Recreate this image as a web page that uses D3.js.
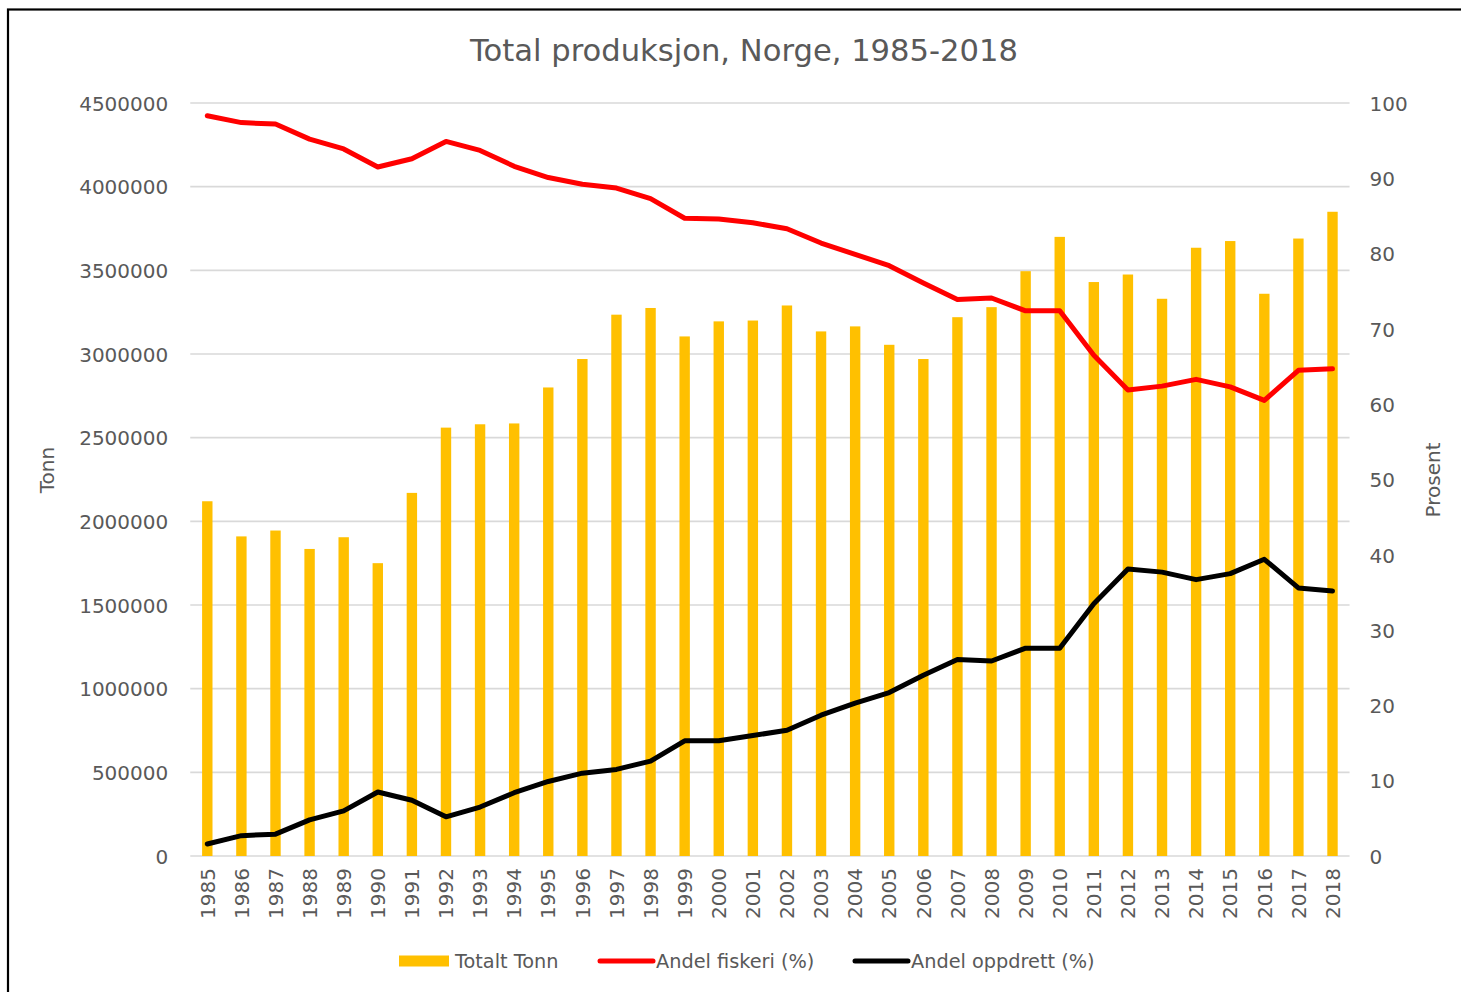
<!DOCTYPE html>
<html><head><meta charset="utf-8">
<script src="https://cdn.jsdelivr.net/npm/d3@7"></script>
<style>
html,body{margin:0;padding:0;background:#fff;}
text{font-family:"DejaVu Sans",sans-serif;fill:#595959;}
</style></head>
<body>
<svg id="chart" width="1461" height="992"></svg>
<script>
const years = [1985,1986,1987,1988,1989,1990,1991,1992,1993,1994,1995,1996,1997,1998,1999,2000,2001,2002,2003,2004,2005,2006,2007,2008,2009,2010,2011,2012,2013,2014,2015,2016,2017,2018];
const totaltTonn = [2120000,1910000,1945000,1835000,1905000,1750000,2170000,2560000,2580000,2585000,2800000,2970000,3235000,3275000,3105000,3195000,3200000,3290000,3135000,3165000,3055000,2970000,3220000,3280000,3495000,3700000,3430000,3475000,3330000,3635000,3675000,3360000,3690000,3850000];
const andelFiskeri = [98.3,97.4,97.2,95.2,93.9,91.5,92.6,94.9,93.7,91.6,90.1,89.2,88.7,87.3,84.7,84.6,84.1,83.3,81.4,79.9,78.4,76.1,73.9,74.1,72.4,72.4,66.5,61.9,62.4,63.3,62.3,60.5,64.5,64.7];
const andelOppdrett = [1.6,2.7,2.9,4.8,6.0,8.5,7.4,5.2,6.5,8.4,9.9,11.0,11.5,12.6,15.3,15.3,16.0,16.7,18.7,20.3,21.7,24.0,26.1,25.9,27.6,27.6,33.5,38.1,37.7,36.7,37.5,39.4,35.6,35.2];
const leftTicks = [0,500000,1000000,1500000,2000000,2500000,3000000,3500000,4000000,4500000];
const rightTicks = [0,10,20,30,40,50,60,70,80,90,100];
const titleText = "Total produksjon, Norge, 1985-2018";
const leftTitle = "Tonn";
const rightTitle = "Prosent";
const legendLabels = ["Totalt Tonn","Andel fiskeri (%)","Andel oppdrett (%)"];

const svg = d3.select("#chart");
const plot = {left:190.25, right:1349.55, top:103, bottom:856};
const grey = "#595959";

// frame
svg.append("rect").attr("x",8).attr("y",9.5).attr("width",1600).attr("height",1200)
  .attr("fill","none").attr("stroke","#000").attr("stroke-width",2.2);

const x = d3.scaleBand().domain(years).range([plot.left, plot.right]).paddingInner(0.695).paddingOuter(0.3475);
const yL = d3.scaleLinear().domain([0,4500000]).range([plot.bottom, plot.top]);
const yR = d3.scaleLinear().domain([0,100]).range([plot.bottom, plot.top]);
const cx = d => x(d) + x.bandwidth()/2;

// gridlines
svg.append("g").selectAll("line").data(leftTicks).join("line")
  .attr("x1",plot.left).attr("x2",plot.right)
  .attr("y1",d=>yL(d)).attr("y2",d=>yL(d))
  .attr("stroke","#d9d9d9").attr("stroke-width",1.6);

// left axis
const gL = svg.append("g").attr("transform",`translate(${plot.left-22},0)`)
  .call(d3.axisLeft(yL).tickValues(leftTicks).tickFormat(d3.format("d")).tickSize(0).tickPadding(0));
gL.select(".domain").remove();
gL.selectAll("text").attr("font-size",20).attr("fill",grey).attr("font-family","DejaVu Sans").attr("dy","0.36em");

// right axis
const gR = svg.append("g").attr("transform",`translate(${plot.right+20},0)`)
  .call(d3.axisRight(yR).tickValues(rightTicks).tickFormat(d3.format("d")).tickSize(0).tickPadding(0));
gR.select(".domain").remove();
gR.selectAll("text").attr("font-size",20).attr("fill",grey).attr("font-family","DejaVu Sans").attr("dy","0.36em");

// bars
svg.append("g").selectAll("rect").data(years).join("rect")
  .attr("x",d=>x(d)).attr("width",x.bandwidth())
  .attr("y",(d,i)=>yL(totaltTonn[i]))
  .attr("height",(d,i)=>plot.bottom - yL(totaltTonn[i]))
  .attr("fill","#FFC000");

// lines
const line = arr => d3.line().x((d,i)=>cx(years[i])).y(d=>yR(d))(arr);
svg.append("path").attr("d",line(andelFiskeri)).attr("fill","none").attr("stroke","#FF0000")
  .attr("stroke-width",5).attr("stroke-linecap","round").attr("stroke-linejoin","round");
svg.append("path").attr("d",line(andelOppdrett)).attr("fill","none").attr("stroke","#000")
  .attr("stroke-width",5).attr("stroke-linecap","round").attr("stroke-linejoin","round");

// x labels
const gX = svg.append("g").attr("transform",`translate(0,${plot.bottom+12})`)
  .call(d3.axisBottom(x).tickSize(0).tickPadding(0));
gX.select(".domain").remove();
gX.selectAll("text").attr("font-size",20).attr("fill",grey).attr("font-family","DejaVu Sans")
  .attr("transform","rotate(-90)").attr("text-anchor","end").attr("x",0).attr("y",0).attr("dy","0.36em");

// title
svg.append("text").attr("x",744).attr("y",61).attr("text-anchor","middle")
  .attr("font-size",30.6).text(titleText);

// axis titles
svg.append("text").attr("transform","translate(47,470) rotate(-90)").attr("text-anchor","middle")
  .attr("dy","0.36em").attr("font-size",20).text(leftTitle);
svg.append("text").attr("transform","translate(1433,480) rotate(-90)").attr("text-anchor","middle")
  .attr("dy","0.36em").attr("font-size",20).text(rightTitle);

// legend
const lg = svg.append("g");
lg.append("rect").attr("x",399).attr("y",955.5).attr("width",50).attr("height",11).attr("fill","#FFC000");
lg.append("text").attr("x",455).attr("y",961).attr("dy","0.36em").attr("font-size",19.3).text(legendLabels[0]);
lg.append("line").attr("x1",600).attr("x2",653).attr("y1",961).attr("y2",961).attr("stroke","#FF0000").attr("stroke-width",5).attr("stroke-linecap","round");
lg.append("text").attr("x",656).attr("y",961).attr("dy","0.36em").attr("font-size",19.3).text(legendLabels[1]);
lg.append("line").attr("x1",855).attr("x2",908).attr("y1",961).attr("y2",961).attr("stroke","#000").attr("stroke-width",5).attr("stroke-linecap","round");
lg.append("text").attr("x",911).attr("y",961).attr("dy","0.36em").attr("font-size",19.3).text(legendLabels[2]);
</script>
</body></html>
